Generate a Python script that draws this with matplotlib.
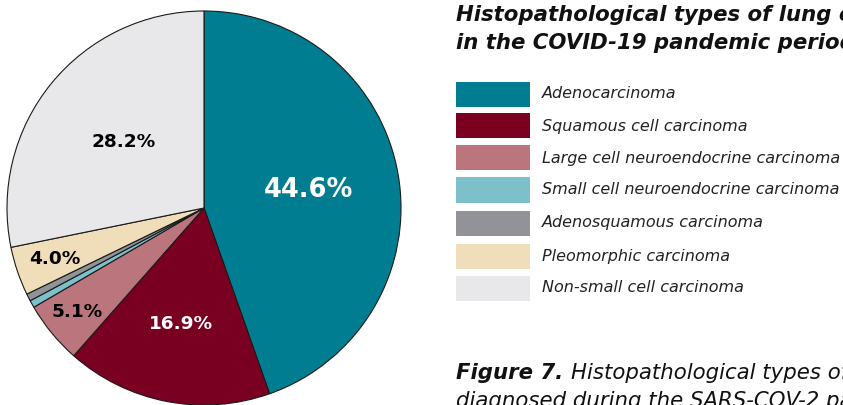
import matplotlib
matplotlib.use("Agg")
import matplotlib.pyplot as plt
from matplotlib.patches import Rectangle
import numpy as np

plt.rcParams['font.family'] = ['DejaVu Sans']

# data
types = ['Adenocarcinoma', 'Squamous cell carcinoma', 'Large cell neuroendocrine carcinoma',
         'Small cell neuroendocrine carcinoma', 'Adenosquamous carcinoma',
         'Pleomorphic carcinoma', 'Non-small cell carcinoma']
shares = [44.6, 16.9, 5.1, 0.6, 0.6, 4.0, 28.2]
colors = ['#007D91', '#7A0021', '#BA757D', '#7DC0C9', '#929396', '#F0DDB9', '#E8E8EA']
label_shown = [True, True, True, False, False, True, True]
label_radius = [0.54, 0.6, 0.83, 0, 0, 0.8, 0.53]
label_color = ['white', 'white', 'black', 'black', 'black', 'black', 'black']
label_size = [18.5, 13.3, 13.3, 13.3, 13.3, 13.3, 13.3]

W, H = 843, 405
fig = plt.figure(figsize=(W / 100, H / 100), dpi=100)

# pie axes: center (204, 208) px, radius 197 px
r_px = 197
lim = 1.05
side = 2 * r_px * lim
cx, cy = 204, H - 208
ax = fig.add_axes([(cx - side / 2) / W, (cy - side / 2) / H, side / W, side / H])
ax.pie(shares, colors=colors, startangle=90, counterclock=False,
       wedgeprops=dict(edgecolor='#1a1a1a', linewidth=0.8))
ax.set_xlim(-lim, lim)
ax.set_ylim(-lim, lim)
ax.set_aspect('equal')
ax.axis('off')

total = sum(shares)
cum = np.cumsum([0] + shares)
for i, v in enumerate(shares):
    if not label_shown[i]:
        continue
    mid = 90 - 360 * (cum[i] + v / 2) / total
    t = np.deg2rad(mid)
    ax.text(label_radius[i] * np.cos(t), label_radius[i] * np.sin(t), f'{v:.1f}%',
            ha='center', va='center', fontweight='bold', fontsize=label_size[i],
            color=label_color[i])

# title
fig.text(456 / W, 1 - 15 / H, 'Histopathological types of lung cancer', ha='left', va='center',
         fontsize=15.3, fontweight='bold', fontstyle='italic', color='#111111')
fig.text(456 / W, 1 - 43 / H, 'in the COVID-19 pandemic period', ha='left', va='center',
         fontsize=15.3, fontweight='bold', fontstyle='italic', color='#111111')

# legend
row_y = [94, 126, 158, 190, 223, 256, 288]
for i, name in enumerate(types):
    y = row_y[i]
    fig.patches.append(Rectangle((456 / W, 1 - (y + 12.5) / H), 74 / W, 25 / H,
                                 transform=fig.transFigure, facecolor=colors[i],
                                 edgecolor='none'))
    fig.text(542 / W, 1 - y / H, name, ha='left', va='center', fontsize=11.5,
             fontstyle='italic', color='#222222')

# caption
fig_lbl = fig.text(456 / W, 1 - 373 / H, 'Figure 7. ', ha='left', va='center', fontsize=15.3,
                   fontweight='bold', fontstyle='italic', color='#111111')
renderer = fig.canvas.get_renderer()
bb = fig_lbl.get_window_extent(renderer)
fig.text(bb.x1 / W, 1 - 373 / H, 'Histopathological types of lung cancer', ha='left',
         va='center', fontsize=15.3, fontstyle='italic', color='#111111')
fig.text(456 / W, 1 - 401 / H, 'diagnosed during the SARS-COV-2 pandemic', ha='left',
         va='center', fontsize=15.3, fontstyle='italic', color='#111111')

fig.savefig('out.png', dpi=100)
